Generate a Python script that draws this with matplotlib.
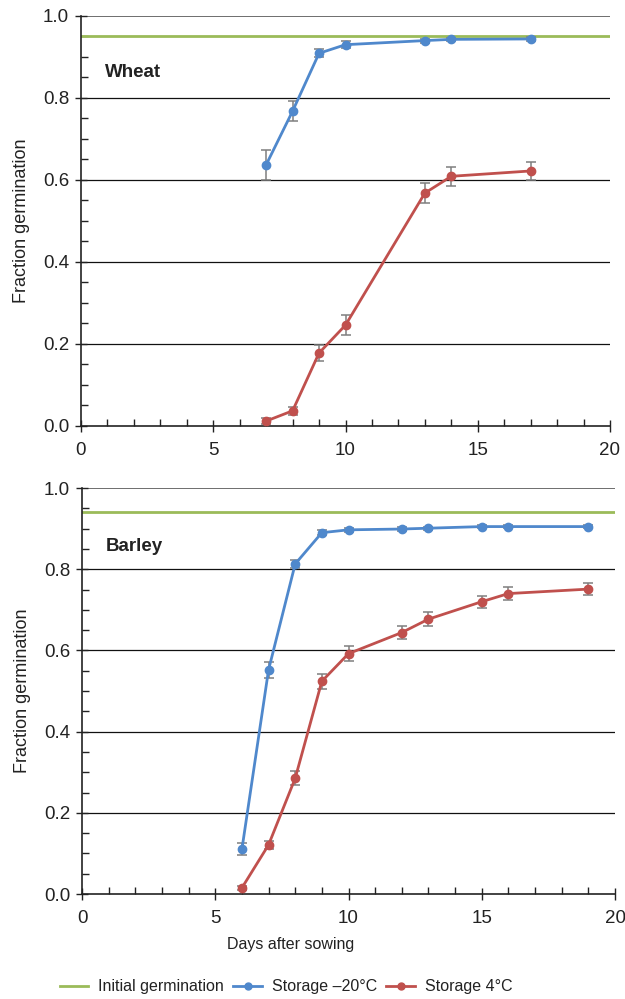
import matplotlib
matplotlib.use("Agg")
import matplotlib.pyplot as plt
from matplotlib.lines import Line2D
from matplotlib.ticker import MultipleLocator

plt.rcParams['font.family'] = ['Liberation Sans', 'DejaVu Sans']

# Wheat
wheat_initial = 0.951
wheat_cold_days = [7, 8, 9, 10, 13, 14, 17]
wheat_cold = [0.637, 0.768, 0.909, 0.930, 0.940, 0.943, 0.944]
wheat_cold_err = [0.037, 0.025, 0.010, 0.008, 0.005, 0.004, 0.004]
wheat_warm_days = [7, 8, 9, 10, 13, 14, 17]
wheat_warm = [0.012, 0.037, 0.178, 0.246, 0.568, 0.609, 0.622]
wheat_warm_err = [0.007, 0.010, 0.020, 0.025, 0.025, 0.023, 0.022]

# Barley
barley_initial = 0.942
barley_days = [6, 7, 8, 9, 10, 12, 13, 15, 16, 19]
barley_cold = [0.110, 0.552, 0.813, 0.890, 0.897, 0.899, 0.901, 0.905, 0.905, 0.905]
barley_cold_err = [0.015, 0.020, 0.010, 0.006, 0.005, 0.004, 0.004, 0.004, 0.004, 0.004]
barley_warm = [0.015, 0.121, 0.285, 0.524, 0.592, 0.644, 0.677, 0.720, 0.740, 0.751]
barley_warm_err = [0.005, 0.010, 0.017, 0.018, 0.018, 0.017, 0.017, 0.015, 0.015, 0.015]

green = '#9BBB59'
blue = '#4F88CC'
red = '#C0504D'
errc = '#7F7F7F'


def draw_panel(ax, name, initial, cold_x, cold_y, cold_e, warm_x, warm_y, warm_e, label_y):
    for y in [0.2, 0.4, 0.6, 0.8]:
        ax.axhline(y, color='#111111', lw=0.9, zorder=1)
    ax.axhline(1.0, color='#555555', lw=1.2, zorder=1)
    ax.axhline(initial, color=green, lw=2, zorder=2)
    for x, y, e, c in [(cold_x, cold_y, cold_e, blue), (warm_x, warm_y, warm_e, red)]:
        ax.errorbar(x, y, yerr=e, fmt='none', ecolor=errc, elinewidth=1.1,
                    capsize=3.5, capthick=1.1, zorder=3)
        ax.plot(x, y, color=c, lw=2, marker='o', ms=6, zorder=4)
    ax.text(0.9, label_y, name, fontsize=13.5, fontweight='bold', color='#222222')
    ax.set_xlim(0, 20)
    ax.set_ylim(0, 1.0)
    ax.xaxis.set_major_locator(MultipleLocator(5))
    ax.xaxis.set_minor_locator(MultipleLocator(1))
    ax.yaxis.set_major_locator(MultipleLocator(0.2))
    ax.yaxis.set_minor_locator(MultipleLocator(0.05))
    ax.yaxis.set_major_formatter(plt.FuncFormatter(lambda v, p: f'{v:.1f}'))
    ax.tick_params(which='major', direction='inout', length=9, width=1,
                   labelsize=13.5, colors='#222222')
    ax.tick_params(axis='x', which='major', pad=7)
    ax.tick_params(axis='y', which='major', pad=4)
    ax.tick_params(which='minor', direction='in', length=5, width=1, colors='#222222')
    for s in ['top', 'right']:
        ax.spines[s].set_visible(False)
    for s in ['left', 'bottom']:
        ax.spines[s].set_color('#222222')
        ax.spines[s].set_linewidth(1.2)
    ax.set_ylabel('Fraction germination', fontsize=13, color='#222222', labelpad=9)


fig = plt.figure(figsize=(6.25, 9.99), dpi=100)
ax1 = fig.add_axes([0.1296, 0.5736, 0.8464, 0.4104])
ax2 = fig.add_axes([0.1312, 0.1051, 0.8528, 0.4064])

draw_panel(ax1, 'Wheat', wheat_initial, wheat_cold_days, wheat_cold, wheat_cold_err,
           wheat_warm_days, wheat_warm, wheat_warm_err, 0.85)
draw_panel(ax2, 'Barley', barley_initial, barley_days, barley_cold, barley_cold_err,
           barley_days, barley_warm, barley_warm_err, 0.845)

fig.text(291 / 625, 1 - 945 / 999, 'Days after sowing', fontsize=11.5,
         ha='center', va='center', color='#222222')

handles = [
    Line2D([], [], color=green, lw=2),
    Line2D([], [], color=blue, lw=2, marker='o', ms=5),
    Line2D([], [], color=red, lw=2, marker='o', ms=5),
]
labels = ['Initial germination', 'Storage \u201320\u00b0C', 'Storage 4\u00b0C']
fig.legend(handles, labels, loc='center', bbox_to_anchor=(286 / 625, 12 / 999),
           ncol=3, frameon=False, fontsize=11.5, handlelength=1.8,
           handletextpad=0.6, columnspacing=0.6, labelcolor='#222222')

fig.savefig('out.png', dpi=100)
